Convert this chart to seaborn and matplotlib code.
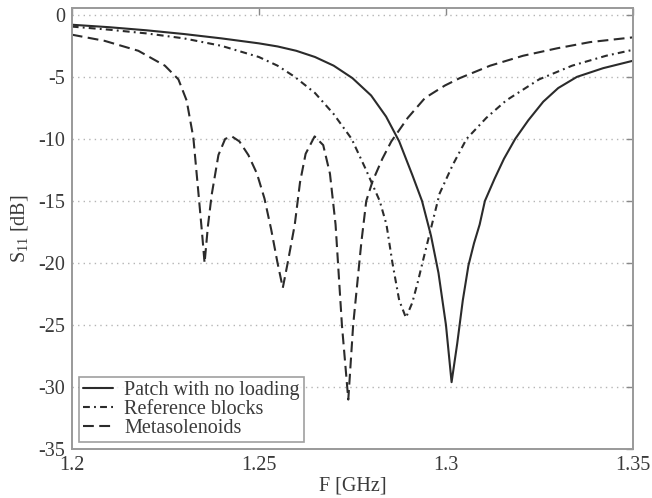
import numpy as np
import pandas as pd
import matplotlib
matplotlib.use("Agg")
import matplotlib.pyplot as plt
import seaborn as sns

# S11 curves (frequency in GHz, S11 in dB)
f_patch = [1.200, 1.210, 1.220, 1.230, 1.240, 1.250, 1.255, 1.260, 1.265, 1.270,
           1.275, 1.280, 1.284, 1.2875, 1.291, 1.2936, 1.296, 1.298, 1.300, 1.3015,
           1.303, 1.3045, 1.306, 1.3075, 1.309, 1.3104, 1.313, 1.3155, 1.3185, 1.322,
           1.326, 1.330, 1.335, 1.342, 1.350]
s11_patch = [-0.8, -1.0, -1.25, -1.55, -1.9, -2.3, -2.55, -2.9, -3.4, -4.1,
             -5.1, -6.5, -8.2, -10.2, -12.9, -15.0, -17.8, -20.8, -25.0, -29.6,
             -26.5, -23.0, -20.2, -18.4, -16.9, -15.0, -13.2, -11.6, -10.0, -8.5,
             -7.0, -5.9, -5.0, -4.3, -3.7]

f_ref = [1.200, 1.210, 1.220, 1.230, 1.240, 1.250, 1.255, 1.2596, 1.265, 1.270,
         1.2748, 1.2785, 1.2823, 1.2841, 1.2857, 1.2875, 1.2893, 1.291, 1.2925, 1.2937,
         1.296, 1.2983, 1.3018, 1.3055, 1.3108, 1.3161, 1.3249, 1.3337, 1.3428, 1.3503]
s11_ref = [-0.95, -1.2, -1.5, -1.9, -2.5, -3.4, -4.1, -5.0, -6.3, -8.0,
           -10.0, -12.4, -15.0, -16.9, -20.0, -23.0, -24.4, -23.2, -21.5, -20.0,
           -17.2, -14.4, -12.1, -10.0, -8.3, -6.9, -5.2, -4.1, -3.3, -2.8]

f_meta = [1.200, 1.2088, 1.2178, 1.2249, 1.2285, 1.2307, 1.2325, 1.2339, 1.2348, 1.2355,
          1.2364, 1.2374, 1.2392, 1.2410, 1.2428, 1.2448, 1.2472, 1.2495, 1.2515, 1.2533,
          1.2550, 1.2564, 1.2577, 1.2596, 1.2610, 1.2625, 1.2649, 1.2672, 1.2690, 1.2705,
          1.2722, 1.2739, 1.2752, 1.2774, 1.2787, 1.2804, 1.2830, 1.2854, 1.2898, 1.2944,
          1.2997, 1.3037, 1.3118, 1.3206, 1.3297, 1.3385, 1.3505]
s11_meta = [-1.6, -2.1, -2.9, -4.1, -5.2, -6.9, -9.9, -14.5, -17.5, -20.0,
            -17.0, -14.5, -11.3, -10.0, -9.8, -10.2, -11.3, -12.8, -14.8, -17.3,
            -20.0, -22.0, -20.0, -16.9, -13.5, -11.2, -9.8, -10.5, -12.8, -16.9,
            -25.0, -31.0, -25.0, -18.3, -15.0, -13.4, -11.6, -10.2, -8.3, -6.7,
            -5.7, -5.1, -4.1, -3.3, -2.7, -2.2, -1.8]

labels = ["Patch with no loading", "Reference blocks", "Metasolenoids"]
x_ticks = [1.2, 1.25, 1.3, 1.35]
x_tick_labels = ["1.2", "1.25", "1.3", "1.35"]
y_ticks = [0, -5, -10, -15, -20, -25, -30, -35]

sns.set_style("white")
plt.rcParams["font.family"] = ["Liberation Serif", "DejaVu Serif"]
plt.rcParams["mathtext.fontset"] = "custom"
plt.rcParams["mathtext.rm"] = "Liberation Serif"

fs = 14.5
text_color = "#3a3a3a"

fig = plt.figure(figsize=(6.52, 4.98), dpi=100)
ax = fig.add_axes([0.110, 0.098, 0.861, 0.886])

line_color = "#2b2b2b"
sns.lineplot(x=f_patch, y=s11_patch, ax=ax, color=line_color, lw=1.5,
             label=labels[0], sort=False)
sns.lineplot(x=f_ref, y=s11_ref, ax=ax, color=line_color, lw=1.5,
             label=labels[1], sort=False)
sns.lineplot(x=f_meta, y=s11_meta, ax=ax, color=line_color, lw=1.5,
             label=labels[2], sort=False)
ax.lines[1].set_dashes([3.3, 2.0, 0.9, 2.0])
ax.lines[2].set_dashes([5.2, 2.6])

ax.set_xlim(1.2, 1.35)
ax.set_ylim(-35, 0.55)
ax.set_xticks(x_ticks)
ax.set_xticklabels(x_tick_labels)
ax.set_yticks(y_ticks)
ax.set_yticklabels([str(v) for v in y_ticks])
ax.yaxis.grid(True, linestyle=(0, (1, 3)), color="#b5b5b5", lw=1.0)
ax.xaxis.grid(False)
ax.tick_params(axis="both", direction="in", length=5, width=1, color="#888888",
               labelsize=fs, labelcolor=text_color, top=True, right=True, pad=5)
for sp in ax.spines.values():
    sp.set_color("#999999")
    sp.set_linewidth(1.4)

ax.set_xlabel("F [GHz]", fontsize=fs, color=text_color, labelpad=1)
ax.set_ylabel(r"S$_{\mathregular{11}}$ [dB]", fontsize=fs, color=text_color, labelpad=6)

leg = ax.legend(loc="lower left", fontsize=fs, frameon=True, fancybox=False,
                handlelength=1.5, handletextpad=0.55, labelspacing=0.0,
                borderpad=0.2, borderaxespad=0.35)
leg.get_frame().set_edgecolor("#888888")
leg.get_frame().set_linewidth(1.2)
for t in leg.get_texts():
    t.set_color(text_color)

plt.savefig("out.png", dpi=100)
